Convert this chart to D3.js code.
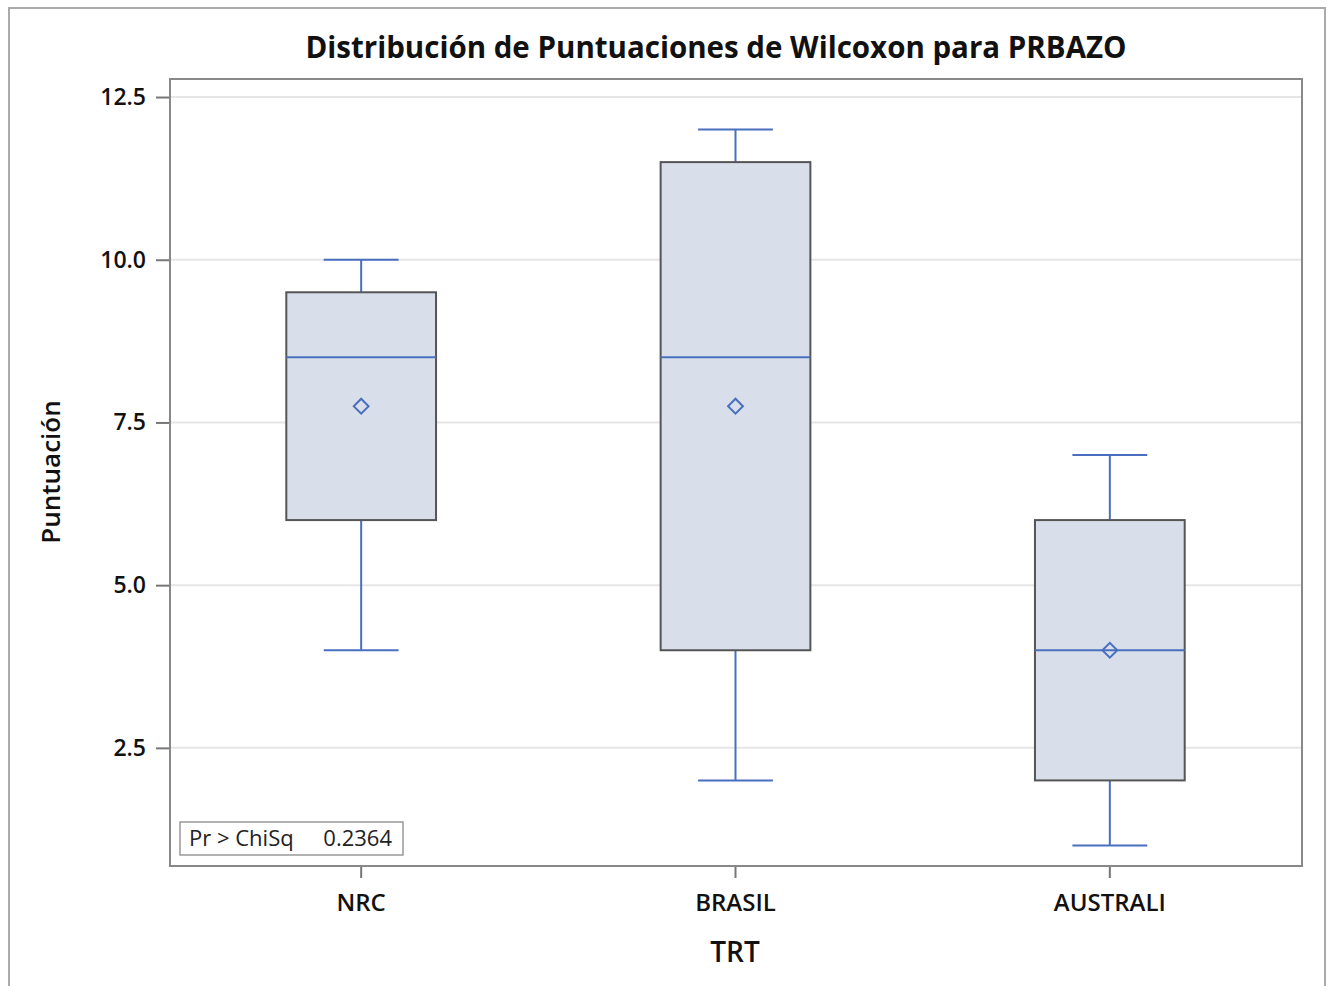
<!DOCTYPE html>
<html><head><meta charset="utf-8">
<script src="https://cdn.jsdelivr.net/npm/d3@7"></script>
<style>body{margin:0;background:#fff;}svg{display:block;font-family:"Open Sans",sans-serif;}</style>
</head><body><svg id="c" width="1329" height="986"></svg>
<script>
const categories = ["NRC", "BRASIL", "AUSTRALI"];
const q1 = [6, 4, 2];
const q3 = [9.5, 11.5, 6];
const medians = [8.5, 8.5, 4];
const means = [7.75, 7.75, 4];
const whiskerLow = [4, 2, 1];
const whiskerHigh = [10, 12, 7];
const yTicks = [2.5, 5.0, 7.5, 10.0, 12.5];
const title = "Distribución de Puntuaciones de Wilcoxon para PRBAZO";
const xTitle = "TRT", yTitle = "Puntuación";
const statLabel = "Pr > ChiSq", statValue = "0.2364";

const svg = d3.select("#c");
const L = 170, R = 1302, T = 79, B = 866;
const blue = "#4a6fbf";

svg.append("rect").attr("x",9).attr("y",8).attr("width",1316).attr("height",990)
  .attr("fill","none").attr("stroke","#aaa").attr("stroke-width",2);

const x = d3.scaleBand().domain(categories).range([174, 1297]).padding(0);
const y = d3.scaleLinear().domain([0.685, 12.777]).range([B, T]);

// grid
svg.append("g").selectAll("line").data(yTicks).join("line")
  .attr("x1",L).attr("x2",R).attr("y1",d=>y(d)).attr("y2",d=>y(d))
  .attr("stroke","#e6e6e6").attr("stroke-width",2);

// title
svg.append("text").attr("x",716).attr("y",58).attr("text-anchor","middle")
  .attr("font-size",29.5).attr("font-weight","bold").attr("fill","#111").text(title);

// y axis
const ya = svg.append("g").attr("transform",`translate(${L},0)`)
  .call(d3.axisLeft(y).tickValues(yTicks).tickFormat(d3.format(".1f")).tickSize(14).tickPadding(10));
ya.select(".domain").remove();
ya.selectAll("line").attr("stroke","#777").attr("stroke-width",2);
ya.selectAll("text").attr("font-size",23).attr("font-weight",600).attr("fill","#111").attr("font-family","'Open Sans',sans-serif");

// x axis
const xa = svg.append("g").attr("transform",`translate(0,${B})`)
  .call(d3.axisBottom(x).tickSize(12).tickPadding(16));
xa.select(".domain").remove();
xa.selectAll("line").attr("stroke","#777").attr("stroke-width",2);
xa.selectAll("text").attr("font-size",24).attr("font-weight",600).attr("fill","#111").attr("font-family","'Open Sans',sans-serif");

svg.append("text").attr("x",735).attr("y",962).attr("text-anchor","middle")
  .attr("font-size",28).attr("font-weight",600).attr("fill","#111").text(xTitle);
svg.append("text").attr("transform",`translate(60,${472}) rotate(-90)`).attr("text-anchor","middle")
  .attr("font-size",26).attr("font-weight",600).attr("fill","#111").text(yTitle);

// boxes
const bw = x.bandwidth()*0.4, cw = bw/2;
const g = svg.append("g");
categories.forEach((c,i)=>{
  const cx = x(c) + x.bandwidth()/2;
  g.append("line").attr("x1",cx).attr("x2",cx).attr("y1",y(whiskerHigh[i])).attr("y2",y(q3[i])).attr("stroke",blue).attr("stroke-width",2);
  g.append("line").attr("x1",cx).attr("x2",cx).attr("y1",y(q1[i])).attr("y2",y(whiskerLow[i])).attr("stroke",blue).attr("stroke-width",2);
  g.append("line").attr("x1",cx-cw/2).attr("x2",cx+cw/2).attr("y1",y(whiskerHigh[i])).attr("y2",y(whiskerHigh[i])).attr("stroke",blue).attr("stroke-width",2);
  g.append("line").attr("x1",cx-cw/2).attr("x2",cx+cw/2).attr("y1",y(whiskerLow[i])).attr("y2",y(whiskerLow[i])).attr("stroke",blue).attr("stroke-width",2);
  g.append("rect").attr("x",cx-bw/2).attr("y",y(q3[i])).attr("width",bw).attr("height",y(q1[i])-y(q3[i]))
    .attr("fill","#d9dfea").attr("stroke","#555").attr("stroke-width",2);
  g.append("line").attr("x1",cx-bw/2).attr("x2",cx+bw/2).attr("y1",y(medians[i])).attr("y2",y(medians[i])).attr("stroke",blue).attr("stroke-width",2);
  g.append("path").attr("d",d3.symbol(d3.symbolSquare,110)).attr("transform",`translate(${cx},${y(means[i])}) rotate(45)`)
    .attr("fill","none").attr("stroke",blue).attr("stroke-width",2);
});

// frame
svg.append("rect").attr("x",L).attr("y",T).attr("width",R-L).attr("height",B-T)
  .attr("fill","none").attr("stroke","#888").attr("stroke-width",2);

// stat box
svg.append("rect").attr("x",180).attr("y",822).attr("width",223).attr("height",33)
  .attr("fill","#fff").attr("stroke","#999").attr("stroke-width",1.5);
svg.append("text").attr("x",189).attr("y",846).attr("font-size",22).attr("fill","#222").text(statLabel);
svg.append("text").attr("x",392).attr("y",846).attr("text-anchor","end").attr("font-size",22).attr("fill","#222").text(statValue);
</script></body></html>
